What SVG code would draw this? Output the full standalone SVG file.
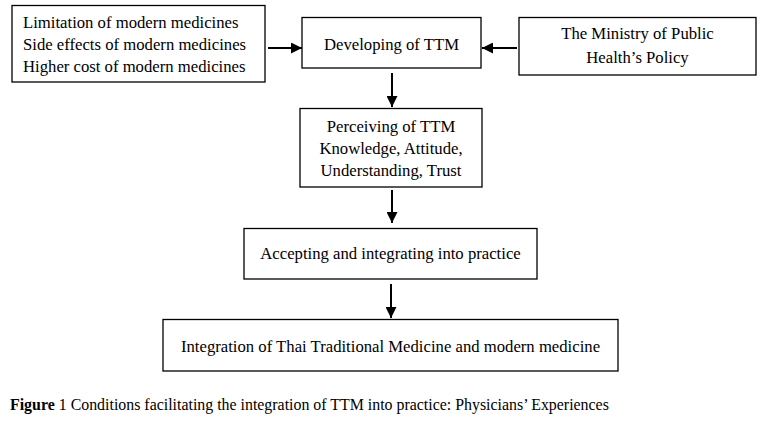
<svg xmlns="http://www.w3.org/2000/svg" width="764" height="423" viewBox="0 0 764 423">
<style>
.box{fill:#fff;stroke:#000;stroke-width:1.3}
.t{font-family:"Liberation Serif","Times New Roman",serif;font-size:16.7px;fill:#000}
.c{text-anchor:middle}
.con{stroke:#000;stroke-width:2;fill:none}
.cap{font-family:"Liberation Serif","Times New Roman",serif;font-size:15.9px;fill:#000}
</style>
<defs>
<marker id="ah" viewBox="0 0 10 10" refX="10" refY="5" markerWidth="5.5" markerHeight="5.5" markerUnits="strokeWidth" orient="auto">
<path d="M0,0 L10,5 L0,10 z" fill="#000"/>
</marker>
</defs>
<rect width="764" height="423" fill="#fff"/>
<g id="n1">
<rect class="box" x="12" y="5.5" width="253" height="76.5"/>
<text class="t" x="23" y="28">Limitation of modern medicines</text>
<text class="t" x="23" y="50">Side effects of modern medicines</text>
<text class="t" x="23" y="72">Higher cost of modern medicines</text>
</g>
<g id="n2">
<rect class="box" x="302" y="17.5" width="179" height="50.5"/>
<text class="t c" x="391.5" y="50">Developing of TTM</text>
</g>
<g id="n3">
<rect class="box" x="519" y="17.5" width="237" height="57.5"/>
<text class="t c" x="637.5" y="39">The Ministry of Public</text>
<text class="t c" x="637.5" y="63">Health’s Policy</text>
</g>
<g id="n4">
<rect class="box" x="300" y="108.5" width="182" height="78.5"/>
<text class="t c" x="391" y="132">Perceiving of TTM</text>
<text class="t c" x="391" y="154">Knowledge, Attitude,</text>
<text class="t c" x="391" y="176">Understanding, Trust</text>
</g>
<g id="n5">
<rect class="box" x="244" y="228.5" width="293" height="50.5"/>
<text class="t c" x="390.5" y="259">Accepting and integrating into practice</text>
</g>
<g id="n6">
<rect class="box" x="163" y="319.5" width="455" height="51.5"/>
<text class="t c" x="390.5" y="352">Integration of Thai Traditional Medicine and modern medicine</text>
</g>
<g id="connectors">
<line class="con" x1="268" y1="48" x2="302" y2="48" marker-end="url(#ah)"/>
<line class="con" x1="517" y1="48" x2="482" y2="48" marker-end="url(#ah)"/>
<line class="con" x1="392" y1="73" x2="392" y2="107" marker-end="url(#ah)"/>
<line class="con" x1="392" y1="190" x2="392" y2="223" marker-end="url(#ah)"/>
<line class="con" x1="391" y1="284" x2="391" y2="318" marker-end="url(#ah)"/>
</g>
<text class="cap" x="10" y="410"><tspan font-weight="bold">Figure</tspan> 1 Conditions facilitating the integration of TTM into practice: Physicians’ Experiences</text>
</svg>
